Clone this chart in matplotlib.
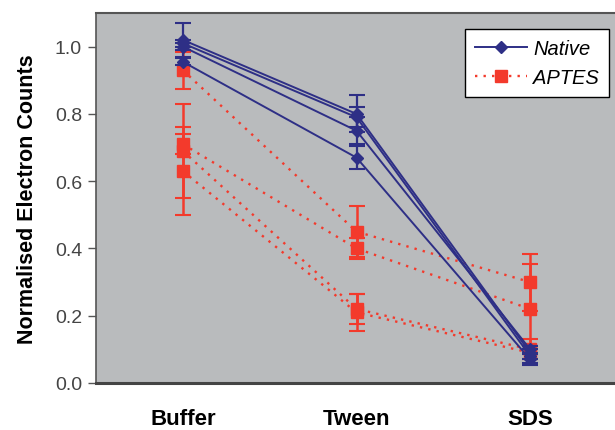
import matplotlib.pyplot as plt
import numpy as np
from matplotlib.lines import Line2D

plt.rcParams["font.family"] = ["Liberation Sans", "DejaVu Sans"]

conditions = ["Buffer", "Tween", "SDS"]

# four native runs
native_runs = [
    [1.02, 0.80, 0.09],
    [1.01, 0.79, 0.08],
    [1.00, 0.75, 0.10],
    [0.955, 0.67, 0.07],
]
native_err = [
    [0.05, 0.055, 0.02],
    [0.01, 0.03, 0.02],
    [0.01, 0.04, 0.01],
    [0.01, 0.035, 0.015],
]

# four APTES runs
aptes_runs = [
    [0.93, 0.45, 0.30],
    [0.71, 0.40, 0.22],
    [0.69, 0.22, 0.10],
    [0.63, 0.21, 0.09],
]
aptes_err = [
    [0.055, 0.075, 0.085],
    [0.03, 0.03, 0.135],
    [0.14, 0.045, 0.03],
    [0.13, 0.055, 0.02],
]

NAVY = "#2e2f86"
RED = "#f33a2c"
RED_DASH = (0, (1.0, 2.6))

fig = plt.figure(figsize=(6.15, 4.31), dpi=100)
ax = fig.add_axes([96 / 615, 47 / 431, 521 / 615, 370 / 431])
ax.set_facecolor("#b9bbbd")

x = np.arange(1, len(conditions) + 1)

for vals, err in zip(aptes_runs, aptes_err):
    ax.errorbar(x, vals, yerr=err, color=RED, ecolor=RED, linestyle=RED_DASH,
                linewidth=1.7, marker="s", markersize=9, capsize=6, capthick=1.5,
                elinewidth=1.8, zorder=3)

for vals, err in zip(native_runs, native_err):
    ax.errorbar(x, vals, yerr=err, color=NAVY, ecolor=NAVY, linestyle="-",
                linewidth=1.4, marker="D", markersize=6, capsize=6, capthick=1.5,
                elinewidth=1.6, zorder=4)

ax.set_xlim(0.5, 3.5)
ax.set_ylim(0, 1.1)
ax.set_xticks(x)
ax.set_xticklabels(conditions, fontsize=16, fontweight="bold")
ax.tick_params(axis="x", length=0, pad=18)
yt = np.arange(0, 1.01, 0.2)
ax.set_yticks(yt)
ax.set_yticklabels([f"{v:.1f}" for v in yt], fontsize=14, color="#444444")
ax.tick_params(axis="y", direction="out", length=6, width=1, color="#555555", pad=4)
ax.set_ylabel("Normalised Electron Counts", fontsize=15.5, fontweight="bold", labelpad=12)

ax.spines["right"].set_visible(False)
ax.spines["top"].set_color("#555555")
ax.spines["top"].set_linewidth(1.5)
ax.spines["left"].set_color("#555555")
ax.spines["left"].set_linewidth(1.2)
ax.spines["bottom"].set_color("#444444")
ax.spines["bottom"].set_linewidth(2.2)

handles = [
    Line2D([], [], color=NAVY, linewidth=1.4, marker="D", markersize=6),
    Line2D([], [], color=RED, linewidth=1.7, linestyle=RED_DASH, marker="s", markersize=8),
]
leg = ax.legend(handles, ["Native", "APTES"], loc="upper right",
                bbox_to_anchor=(0.985, 0.958), borderaxespad=0,
                fancybox=False, edgecolor="black", framealpha=1, handlelength=2.6,
                handletextpad=0.3, prop={"size": 14.5, "style": "italic"},
                borderpad=0.5, labelspacing=0.5)
leg.get_frame().set_linewidth(1.0)

fig.savefig("out.png", dpi=100)
